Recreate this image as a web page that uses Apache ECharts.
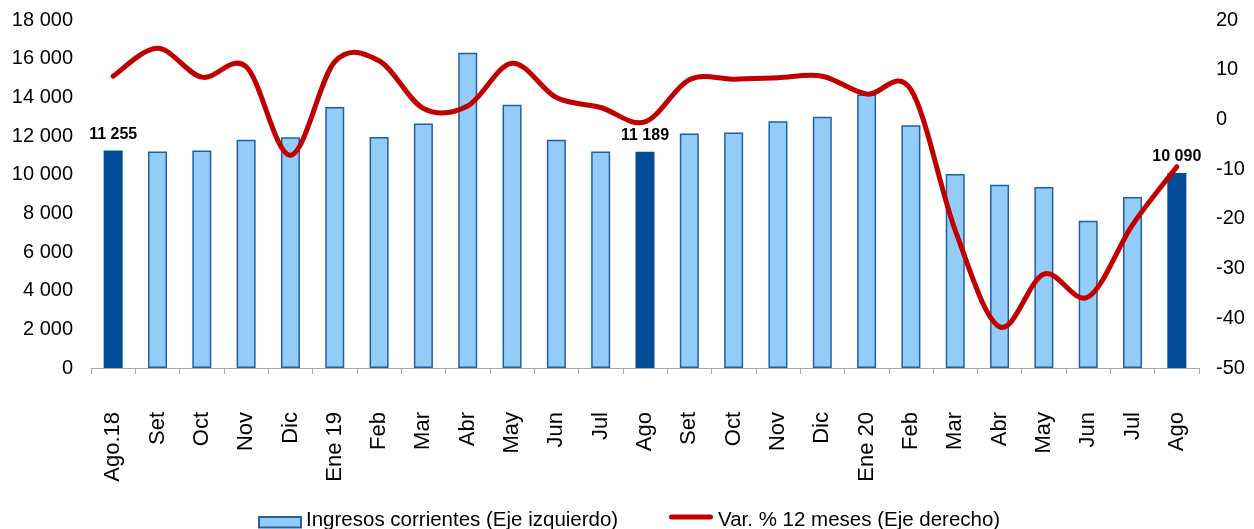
<!DOCTYPE html>
<html><head><meta charset="utf-8">
<script src="https://cdn.jsdelivr.net/npm/echarts@6/dist/echarts.min.js"></script>
<style>html,body{margin:0;padding:0;background:#fff}#c{width:1254px;height:529px}</style>
</head><body><div id="c"></div>
<script>
const categories = ['Ago.18','Set','Oct','Nov','Dic','Ene 19','Feb','Mar','Abr','May','Jun','Jul','Ago','Set','Oct','Nov','Dic','Ene 20','Feb','Mar','Abr','May','Jun','Jul','Ago'];
const ingresos = [11255, 11200, 11250, 11800, 11930, 13500, 11950, 12650, 16300, 13620, 11800, 11200, 11189, 12130, 12180, 12760, 13000, 14150, 12550, 10030, 9480, 9360, 7620, 8840, 10090];
const variacion = [8.7, 14.3, 8.5, 10.6, -7.2, 11.6, 11.8, 2.2, 2.7, 11.3, 4.4, 2.4, -0.5, 8.0, 8.1, 8.4, 8.7, 5.1, 6.0, -22.3, -41.7, -31.1, -35.7, -21.2, -9.5];
const seriesNames = ['Ingresos corrientes (Eje izquierdo)', 'Var. % 12 meses (Eje derecho)'];
const highlightPrefix = 'Ago';

const FONT = '"Liberation Sans", Arial, sans-serif';
const RED = '#C00000';
const fmt = v => String(v).replace(/\B(?=(\d{3})+(?!\d))/g, ' ');

const barData = ingresos.map((v, i) => {
  const hi = categories[i].startsWith(highlightPrefix);
  return hi ? {
    value: v,
    itemStyle: { color: '#004C97', borderColor: '#004C97' },
    label: { show: true }
  } : { value: v };
});

// Excel-like smoothed line (Catmull-Rom through the points), positioned by the axes via api.coord
function renderSmoothLine(params, api) {
  if (params.dataIndex !== 0) return null;
  const pts = [];
  for (let i = 0; i < variacion.length; i++) pts.push(api.coord([i, variacion[i]]));
  let d = 'M' + pts[0][0] + ',' + pts[0][1];
  for (let i = 0; i < pts.length - 1; i++) {
    const p0 = pts[Math.max(i - 1, 0)], p1 = pts[i], p2 = pts[i + 1], p3 = pts[Math.min(i + 2, pts.length - 1)];
    const c1x = p1[0] + (p2[0] - p0[0]) / 6, c1y = p1[1] + (p2[1] - p0[1]) / 6;
    const c2x = p2[0] - (p3[0] - p1[0]) / 6, c2y = p2[1] - (p3[1] - p1[1]) / 6;
    d += ' C' + c1x + ',' + c1y + ' ' + c2x + ',' + c2y + ' ' + p2[0] + ',' + p2[1];
  }
  return {
    type: 'path',
    shape: { pathData: d },
    style: { fill: null, stroke: RED, lineWidth: 5, lineCap: 'round', lineJoin: 'round' }
  };
}

const chart = echarts.init(document.getElementById('c'), null, { renderer: 'canvas' });
chart.setOption({
  animation: false,
  backgroundColor: '#fff',
  textStyle: { fontFamily: FONT },
  grid: { left: 91, right: 55, top: 20, bottom: 161, containLabel: false },
  legend: [
    {
      left: 258, top: 510, padding: 0,
      itemWidth: 42, itemHeight: 19,
      textStyle: { fontFamily: FONT, fontSize: 20.5, color: '#000' },
      data: [{ name: seriesNames[0], icon: 'path://M0,0 M0,19 M0,6 L42,6 L42,16.5 L0,16.5 Z' }]
    },
    {
      left: 669, top: 510, padding: 0,
      itemWidth: 44, itemHeight: 12,
      textStyle: { fontFamily: FONT, fontSize: 20.5, color: '#000' },
      data: [{ name: seriesNames[1], icon: 'path://M0,12 M2.5,0 L41.5,0 A2.5,2.5 0 0 1 41.5,5 L2.5,5 A2.5,2.5 0 0 1 2.5,0 Z', itemStyle: { color: RED } }]
    }
  ],
  xAxis: {
    type: 'category',
    data: categories,
    boundaryGap: true,
    axisLine: { show: true, lineStyle: { color: '#a6a6a6', width: 1 } },
    axisTick: { show: true, alignWithLabel: false, length: 6, lineStyle: { color: '#a6a6a6' } },
    axisLabel: { rotate: 90, margin: 44, interval: 0, color: '#000', fontSize: 22, fontFamily: FONT }
  },
  yAxis: [
    {
      type: 'value', min: 0, max: 18000, interval: 2000,
      splitLine: { show: false },
      axisLine: { show: false }, axisTick: { show: false },
      axisLabel: { color: '#000', fontSize: 20, fontFamily: FONT, margin: 18, formatter: v => fmt(v) }
    },
    {
      type: 'value', min: -50, max: 20, interval: 10,
      splitLine: { show: false },
      axisLine: { show: false }, axisTick: { show: false },
      axisLabel: { color: '#000', fontSize: 20, fontFamily: FONT, margin: 17, align: 'left' }
    }
  ],
  series: [
    {
      name: seriesNames[0],
      type: 'bar',
      yAxisIndex: 0,
      barWidth: 19,
      data: barData,
      itemStyle: { color: '#93CDF7', borderColor: '#1F5FA8', borderWidth: 1.5 },
      label: {
        show: false, position: 'top', distance: 8,
        color: '#000', fontWeight: 'bold', fontSize: 16, fontFamily: FONT,
        formatter: p => fmt(p.value)
      },
      z: 1
    },
    {
      name: seriesNames[1],
      type: 'custom',
      coordinateSystem: 'cartesian2d',
      yAxisIndex: 1,
      data: variacion.map((v, i) => [i, v]),
      encode: { x: 0, y: 1 },
      renderItem: renderSmoothLine,
      itemStyle: { color: RED },
      clip: false,
      z: 3
    }
  ]
});
</script></body></html>
